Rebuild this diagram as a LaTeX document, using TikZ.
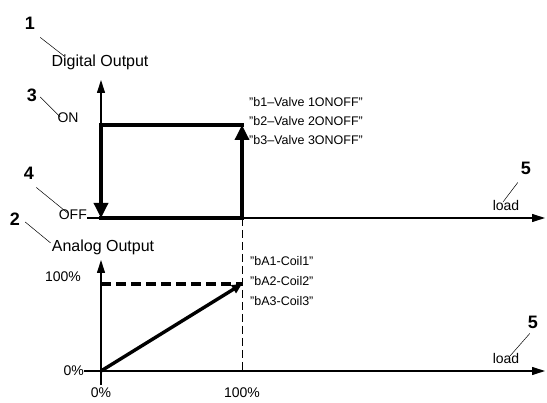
\documentclass[tikz,border=0pt]{standalone}
\usepackage{fontspec}
\setmainfont{Liberation Sans}
\usetikzlibrary{arrows.meta}

\begin{document}
\begin{tikzpicture}[
    x=1pt, y=-1pt,
    axis/.style={draw=black, line width=1.1pt, -{Triangle[length=13pt,width=8pt]}},
    signal/.style={draw=black, line width=3.4pt, line join=miter, line cap=rect},
    bigtip/.style={-{Triangle[length=15pt,width=14pt]}},
    guide/.style={draw=black, dash pattern=on 8pt off 4pt, line width=1pt},
    leader/.style={draw=black, line width=0.5pt},
    axlabel/.style={font=\fontsize{16}{18}\selectfont, inner sep=0pt},
    val/.style={font=\fontsize{14}{16}\selectfont, inner sep=0pt},
    varlabel/.style={font=\fontsize{12.5}{14}\selectfont, anchor=west, inner sep=0pt},
    callout/.style={font=\fontsize{18}{20}\selectfont\bfseries, inner sep=0pt},
  ]
  \path[use as bounding box] (0,0) rectangle (547,403);

  % Axis origins and ends.
  \coordinate (o1) at (101,218);
  \coordinate (y1) at (101,80);
  \coordinate (x1) at (545,218);
  \coordinate (o2) at (101,371);
  \coordinate (y2) at (101,260);
  \coordinate (x2) at (545,371);
  \coordinate (yb) at (101,385);
  \coordinate (on1) at (101,125);
  \coordinate (on2) at (242,125);
  \coordinate (off2) at (242,218);
  \coordinate (full0) at (101,284);
  \coordinate (full) at (242,284);

  % Axis and level labels.
  \node[axlabel] (dout) at (100,62) {Digital Output};
  \node[axlabel] (aout) at (103,247) {Analog Output};
  \node[val] (on) at (68,118) {ON};
  \node[val, anchor=east] (off) at (87,215) {OFF};
  \node[val] (p100) at (63,277) {100\%};
  \node[val, anchor=east] (p0) at (84,371) {0\%};
  \node[val] (q0) at (101,393) {0\%};
  \node[val] (q100) at (242,393) {100\%};
  \node[val] (loada) at (506,205) {load};
  \node[val] (loadb) at (506,358) {load};

  % Digital output: ON/OFF switching.
  \draw[axis] (o1) -- (y1);
  \draw[axis] (off.east |- o1) -- (x1);
  \draw[signal, bigtip] (o1) -- (off2) -- (on2);
  \draw[signal, bigtip] (on2) -- (on1) -- (o1);
  \draw[guide] (off2) -- (off2 |- o2);

  % Analog output: linear ramp up to 100%.
  \draw[axis] (yb) -- (y2);
  \draw[axis] (p0.east |- o2) -- (x2);
  \draw[signal, line cap=butt, dash pattern=on 10pt off 5pt] (full0) -- (full);
  \draw[signal, line cap=butt, -{Triangle[length=10pt,width=9pt]}] (o2) -- (full);

  % Variable names.
  \node[varlabel] (b1) at (249,102) {"b1--Valve 1ONOFF"};
  \node[varlabel] (b2) at (249,121) {"b2--Valve 2ONOFF"};
  \node[varlabel] (b3) at (249,140) {"b3--Valve 3ONOFF"};
  \node[varlabel] (ba1) at (250,261) {"bA1-Coil1"};
  \node[varlabel] (ba2) at (250,281) {"bA2-Coil2"};
  \node[varlabel] (ba3) at (250,301) {"bA3-Coil3"};

  % Callout numbers with leader lines.
  \node[callout] (c1) at (30,23) {1};
  \node[callout] (c2) at (15,219) {2};
  \node[callout] (c3) at (32,95) {3};
  \node[callout] (c4) at (29,173) {4};
  \node[callout] (c5a) at (526,168) {5};
  \node[callout] (c5b) at (533,322) {5};
  \draw[leader] ([shift={(5,8)}]c1.south east) -- ([shift={(14,-5)}]dout.west);
  \draw[leader] ([shift={(5,3)}]c2.east) -- ([shift={(-1,-4)}]aout.west);
  \draw[leader] ([shift={(3,2)}]c3.east) -- ([shift={(3,-1)}]on.west);
  \draw[leader] ([shift={(2,8)}]c4.south east) -- ([shift={(9,-2)}]off.west);
  \draw[leader] ([shift={(-3,8)}]c5a.south west) -- ([shift={(-3,-3)}]loada.center);
  \draw[leader] ([shift={(2,5)}]c5b.south west) -- ([shift={(4,-2)}]loadb.center);
\end{tikzpicture}
\end{document}
